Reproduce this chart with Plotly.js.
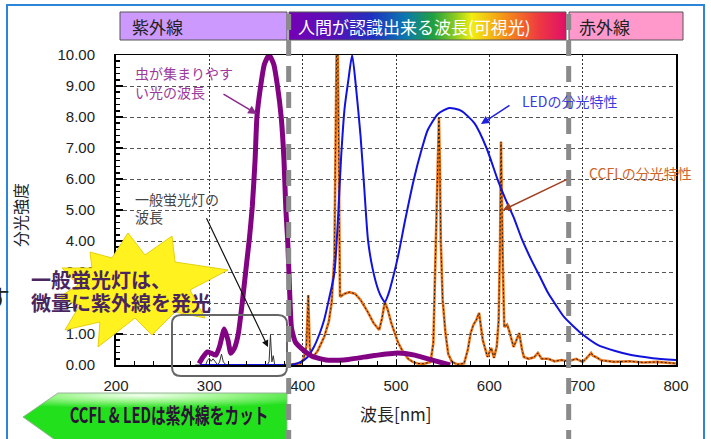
<!DOCTYPE html>
<html><head><meta charset="utf-8">
<script src="https://cdn.plot.ly/plotly-3.0.1.min.js"></script>
<style>html,body{margin:0;padding:0;background:#fff}#chart{width:711px;height:439px}</style>
</head><body><div id="chart"></div>
<script>
// ---------- data ----------
const insectNm  = [289, 293, 298, 302, 307, 311, 316, 320, 323, 327, 331, 336, 340, 343, 346, 349, 351, 355, 359, 364, 369, 373, 377, 380, 382, 384, 386, 388, 392, 398, 410, 425, 449, 475, 502, 520, 540, 558];
const insectVal = [0.05, 0.25, 0.42, 0.38, 0.32, 0.6, 1.16, 0.8, 0.38, 0.55, 1.0, 2.2, 3.3, 4.1, 5.1, 6.6, 8.0, 9.0, 9.7, 10.0, 9.7, 9.0, 8.0, 6.6, 5.0, 4.0, 2.4, 1.2, 0.75, 0.55, 0.28, 0.16, 0.18, 0.3, 0.39, 0.32, 0.15, 0.0];

const ledNm  = [290, 350, 390, 398, 405, 412, 418, 423, 428, 434, 438, 441, 445, 449, 453, 457, 462, 466, 470, 475, 481, 485, 488, 492, 497, 502, 510, 519, 527, 534, 545, 557, 570, 584, 597, 609, 618, 626, 635, 645, 655, 663, 672, 680, 690, 698, 716, 735, 752, 775, 800];
const ledVal = [0, 0, 0.02, 0.1, 0.25, 0.58, 1.0, 1.45, 2.1, 2.97, 4.8, 6.6, 8.3, 9.2, 10.0, 9.0, 7.4, 5.7, 4.03, 3.1, 2.42, 2.15, 2.03, 2.3, 2.85, 3.48, 4.7, 5.97, 6.9, 7.58, 8.1, 8.29, 8.2, 7.8, 7.0, 5.97, 5.3, 4.77, 4.05, 3.39, 2.8, 2.32, 1.9, 1.55, 1.25, 1.03, 0.65, 0.45, 0.32, 0.22, 0.16];

const ccflNm  = [380, 392, 398, 401, 404, 406, 407.5, 409, 412, 416, 423, 428, 431, 434, 435.5, 436.5, 437.5, 438.5, 440, 445, 450, 456, 462, 470, 476, 482, 485, 488, 491, 495, 499, 502, 507, 513, 518, 523, 530, 537, 540, 542, 544, 545, 546, 547, 548, 550, 553, 556, 560, 566, 573, 577, 580, 583, 586, 589, 591, 593, 598, 602, 605, 608, 610, 611.5, 612.5, 613.5, 614.5, 616, 619, 621, 624, 626, 629, 632, 635, 637, 642, 648, 652, 656, 663, 670, 677, 685, 693, 700, 705, 709, 711, 714, 720, 734, 750, 765, 780, 800];
const ccflVal = [0.0, 0.02, 0.05, 0.2, 0.6, 2.26, 0.6, 0.3, 0.3, 0.45, 0.9, 1.4, 2.0, 3.5, 7.0, 10.6, 10.6, 6.0, 2.2, 2.3, 2.35, 2.3, 2.1, 1.7, 1.35, 1.13, 1.5, 2.03, 1.8, 1.35, 1.0, 0.74, 0.45, 0.2, 0.1, 0.05, 0.04, 0.1, 0.7, 3.16, 5.5, 6.3, 7.97, 6.5, 4.0, 2.1, 1.03, 0.35, 0.1, 0.02, 0.05, 0.5, 1.03, 1.3, 1.45, 1.68, 1.2, 0.8, 0.26, 0.55, 0.23, 0.6, 1.45, 4.0, 7.2, 4.5, 3.16, 1.23, 1.3, 1.13, 0.8, 0.58, 0.8, 1.03, 0.5, 0.26, 0.2, 0.25, 0.39, 0.2, 0.2, 0.12, 0.16, 0.12, 0.2, 0.1, 0.25, 0.39, 0.3, 0.26, 0.15, 0.1, 0.12, 0.08, 0.1, 0.05];

const uvNm  = [285, 296, 298, 300, 302, 304, 309, 311, 313, 315, 318, 350, 362, 364, 365.5, 367, 368.5, 370, 372, 390];
const uvVal = [0, 0, 0.15, 0.22, 0.12, 0.2, 0, 0.1, 0.35, 0.1, 0, 0, 0, 0.1, 0.97, 0.1, 0.3, 0, 0, 0];

const regionBounds = [385, 685];
const regionLabels = ['紫外線', '人間が認識出来る波長(可視光)', '赤外線'];
const xTickVals = [200, 300, 400, 500, 600, 700, 800];
const yTickVals = [0, 1, 2, 3, 4, 5, 6, 7, 8, 9, 10];

// ---------- helpers (pixel -> paper) ----------
const W = 711, H = 439, L = 116, R = 676, T = 55, B = 365;
const px = x => (x - L) / (R - L);
const py = y => (B - y) / (B - T);
const FONT = "'Liberation Sans', 'Noto Sans CJK JP', sans-serif";
const JP = "'Noto Sans CJK JP', 'Liberation Sans', sans-serif";
const svgURI = s => 'data:image/svg+xml;charset=utf-8,' + encodeURIComponent(s);

const traces = [
  {x: uvNm, y: uvVal, mode: 'lines', line: {color: '#333', width: 1}, hoverinfo: 'skip'},
  {x: ccflNm, y: ccflVal, mode: 'lines', line: {color: 'rgb(236,118,28)', width: 2.6}, hoverinfo: 'skip'},
  {x: ccflNm, y: ccflVal, mode: 'lines', line: {color: 'rgba(20,10,0,0.85)', width: 1, dash: '2px,2px'}, hoverinfo: 'skip'},
  {x: ledNm, y: ledVal, mode: 'lines', line: {color: '#1212dd', width: 2, shape: 'spline', smoothing: 0.6}, hoverinfo: 'skip'},
  {x: insectNm, y: insectVal, mode: 'lines', line: {color: '#820482', width: 5, shape: 'spline', smoothing: 0.5}, hoverinfo: 'skip'}
];

// burst star polygon (px)
const burstPts = [[128,233],[145,255],[172,236],[175,262],[228,270],[190,290],[205,318],[175,312],[152,335],[135,318],[98,347],[100,322],[65,330],[80,305],[58,298],[78,285],[62,268],[92,268],[90,252],[112,258]];
const burstPath = 'M' + burstPts.map(p => px(p[0]).toFixed(4) + ',' + py(p[1]).toFixed(4)).join(' L') + ' Z';

// rounded rect (px)
function rrect(x0, y0, x1, y1, r) {
  const rx = r / (R - L), ry = r / (B - T);
  const X0 = px(x0), X1 = px(x1), Y0 = py(y0), Y1 = py(y1);
  return `M${X0+rx},${Y0} L${X1-rx},${Y0} Q${X1},${Y0} ${X1},${Y0-ry} L${X1},${Y1+ry} Q${X1},${Y1} ${X1-rx},${Y1} L${X0+rx},${Y1} Q${X0},${Y1} ${X0},${Y1+ry} L${X0},${Y0-ry} Q${X0},${Y0} ${X0+rx},${Y0} Z`;
}

const rainbowSVG = "<svg xmlns='http://www.w3.org/2000/svg' width='280' height='28' viewBox='0 0 280 28' preserveAspectRatio='none'><defs><linearGradient id='g' x1='0' x2='1' y1='0' y2='0'><stop offset='0' stop-color='#7400b4'/><stop offset='0.15' stop-color='#5a10b8'/><stop offset='0.3' stop-color='#2030c0'/><stop offset='0.42' stop-color='#0a78b0'/><stop offset='0.52' stop-color='#1fa040'/><stop offset='0.6' stop-color='#8ccc20'/><stop offset='0.66' stop-color='#f2ee10'/><stop offset='0.78' stop-color='#f59018'/><stop offset='0.9' stop-color='#ee3a40'/><stop offset='1' stop-color='#e01068'/></linearGradient></defs><rect x='0' y='0' width='280' height='28' fill='url(#g)'/></svg>";

const arrowSVG = "<svg xmlns='http://www.w3.org/2000/svg' width='270' height='50' viewBox='0 0 270 50' preserveAspectRatio='none'><defs><radialGradient id='a' cx='0.45' cy='0.05' r='0.75' gradientTransform='translate(0.45 0.05) scale(1 0.35) translate(-0.45 -0.05)'><stop offset='0' stop-color='#f4fff0'/><stop offset='0.45' stop-color='#9af58a'/><stop offset='1' stop-color='#22e01c'/></radialGradient></defs><polygon points='3,27 38,3 267,3 267,52 38,52' fill='url(#a)' stroke='#9ab59a' stroke-width='1'/></svg>";

const shapes = [
  {type: 'rect', xref: 'paper', yref: 'paper', x0: px(7), x1: px(704), y0: py(5), y1: py(450), line: {color: '#2c85d8', width: 2}, layer: 'below'},
  {type: 'path', xref: 'paper', yref: 'paper', path: burstPath, fillcolor: '#fff21e', line: {color: '#e6cf10', width: 1}, layer: 'above'},
  {type: 'path', xref: 'paper', yref: 'paper', path: rrect(172, 315, 287, 376, 9), line: {color: '#666', width: 2}, layer: 'above'},
  {type: 'rect', xref: 'paper', yref: 'paper', x0: px(120), x1: px(287), y0: py(40), y1: py(12), fillcolor: '#cc99ff', line: {color: '#555', width: 1}},
  {type: 'rect', xref: 'paper', yref: 'paper', x0: px(289), x1: px(566), y0: py(40), y1: py(12), fillcolor: 'rgba(0,0,0,0)', line: {color: '#555', width: 1}},
  {type: 'rect', xref: 'paper', yref: 'paper', x0: px(569), x1: px(683), y0: py(40), y1: py(12), fillcolor: '#ff99cc', line: {color: '#555', width: 1}},
];
regionBounds.forEach(b => shapes.push({
  type: 'line', xref: 'x', yref: 'paper', x0: b, x1: b, y0: py(446), y1: py(12),
  line: {color: '#8a8a8a', width: 5, dash: '16px,10px'}, layer: 'above'
}));

const images = [
  {source: svgURI(rainbowSVG), xref: 'paper', yref: 'paper', x: px(289), y: py(12), sizex: px(566) - px(289), sizey: py(12) - py(40), sizing: 'stretch', xanchor: 'left', yanchor: 'top', layer: 'below'},
  {source: svgURI(arrowSVG), xref: 'paper', yref: 'paper', x: px(20), y: py(390), sizex: px(290) - px(20), sizey: py(390) - py(440), sizing: 'stretch', xanchor: 'left', yanchor: 'top', layer: 'above'}
];

function txt(s, x, y, size, color, opts) {
  return Object.assign({text: s, xref: 'paper', yref: 'paper', x: px(x), y: py(y), xanchor: 'left', yanchor: 'middle', showarrow: false, font: {family: JP, size: size, color: color}}, opts || {});
}
function arrow(x0, y0, x1, y1, color, w) {
  return {text: ' ', xref: 'paper', yref: 'paper', x: px(x1), y: py(y1), ax: x0 - x1, ay: y0 - y1, showarrow: true, arrowhead: 2, arrowsize: 1.1, arrowwidth: w, arrowcolor: color, standoff: 0, startstandoff: 0};
}

const annotations = [
  txt(regionLabels[0], 130, 26, 17, '#222'),
  txt(regionLabels[1], 296, 26, 17, '#ffffff'),
  txt(regionLabels[2], 577, 26, 17, '#222'),
  txt('虫が集まりやす', 133, 73, 14, '#9c3a9c'),
  txt('い光の波長', 133, 92, 14, '#9c3a9c'),
  arrow(220, 92, 257, 114, '#8b2a8b', 1.6),
  txt('一般蛍光灯の', 133, 199, 14, '#444'),
  txt('波長', 133, 217, 14, '#444'),
  arrow(203, 211, 268, 347, '#111', 1.2),
  txt('LEDの分光特性', 520, 101, 14, '#3a3ae0'),
  arrow(513, 103, 481, 124, '#2020e0', 1.5),
  txt('CCFLの分光特性', 587, 173, 14, '#d0642a'),
  arrow(570, 178, 503, 210, '#a04020', 1.5),
  txt('<b>一般蛍光灯は、</b>', 29, 279, 20, '#4a2660'),
  txt('<b>微量に紫外線を発光</b>', 29, 302, 20, '#4a2660'),
  txt('<b>CCFL &amp; LEDは紫外線をカット</b>', 169, 414, 21, '#2c1236', {xanchor: 'center', font: {family: JP, size: 21, color: '#2c1236'}}),
  txt('分光強度', 20, 215, 16, '#222', {xanchor: 'center', textangle: -90}),
  txt('波長[nm]', 396, 414, 17, '#222', {xanchor: 'center'}),
  txt('す', -2, 296, 24, '#222', {xanchor: 'center'})
];

const layout = {
  width: W, height: H,
  margin: {l: L, r: W - R, t: T, b: H - B, pad: 0},
  paper_bgcolor: '#ffffff', plot_bgcolor: 'rgba(0,0,0,0)',
  showlegend: false,
  font: {family: FONT, size: 15, color: '#222'},
  xaxis: {
    range: [200, 800], tickvals: xTickVals, ticks: 'inside', ticklen: 5, tickcolor: '#000',
    showline: true, linecolor: '#000', linewidth: 1.5, mirror: true,
    showgrid: true, gridcolor: '#333', griddash: '2px,2px', gridwidth: 1, zeroline: false,
    tickfont: {family: FONT, size: 15, color: '#222'}, ticklabelstandoff: 6,
    minor: {dtick: 20, ticks: 'inside', ticklen: 4, tickcolor: '#000', showgrid: false}
  },
  yaxis: {
    range: [0, 10], tickvals: yTickVals, tickformat: '.2f', ticks: 'inside', ticklen: 7, tickcolor: '#000', tickwidth: 1.5,
    showline: true, linecolor: '#000', linewidth: 2, mirror: true,
    showgrid: true, gridcolor: '#555', griddash: '4px,3px', gridwidth: 1, zeroline: false,
    tickfont: {family: FONT, size: 15, color: '#222'}, ticklabelstandoff: 16,
    minor: {dtick: 0.2, ticks: 'inside', ticklen: 4, tickcolor: '#000', showgrid: false}
  },
  shapes: shapes, images: images, annotations: annotations
};

Plotly.newPlot('chart', traces, layout, {displayModeBar: false, staticPlot: true}).then(gd => {
  // condense the arrow caption horizontally (the reference uses a condensed face)
  const t = gd.querySelector('.annotation[data-index="15"] text.annotation-text');
  if (t) {
    const bb = t.getBBox();
    const cx = bb.x + bb.width / 2;
    t.setAttribute('transform', `translate(${cx},0) scale(0.7,1) translate(${-cx},0)`);
  }
});
</script></body></html>
